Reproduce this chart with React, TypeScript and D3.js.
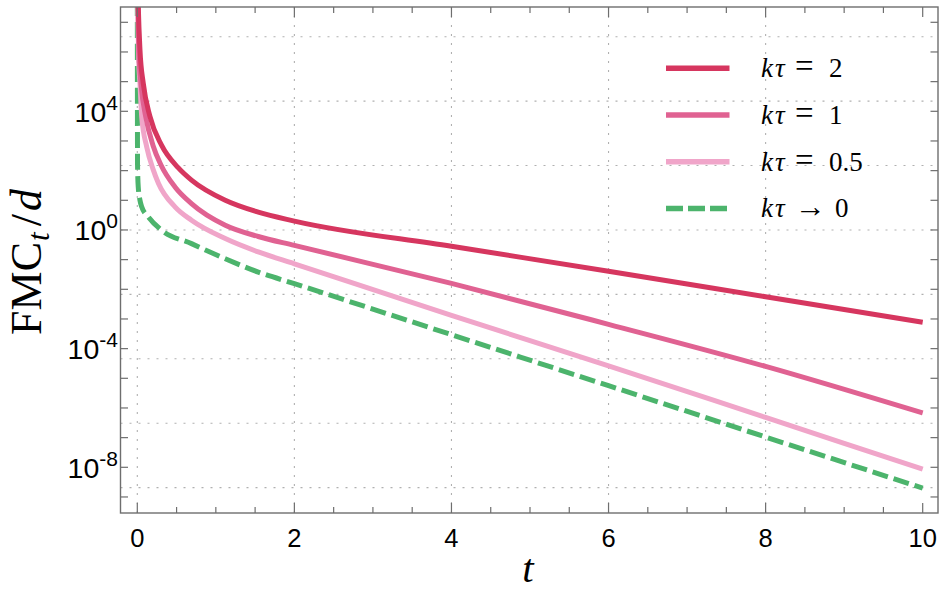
import React from "react";
import * as d3 from "d3";

// ---- data (t, log10 FMC_t/d) ----
const tRed = [0.006, 0.013, 0.034, 0.076, 0.162, 0.31, 0.52, 0.69, 1.12, 1.54, 2.0, 4.0, 6.0, 8.0, 10.0];
const logRed = [8.3, 7.5, 6.07, 4.94, 3.82, 2.85, 2.1, 1.68, 1.0, 0.6, 0.3, -0.55, -1.39, -2.25, -3.11];

const tPink = [0.004, 0.02, 0.05, 0.107, 0.2, 0.3, 0.48, 0.69, 1.12, 1.54, 2.0, 4.0, 6.0, 8.0, 10.0];
const logPink = [8.3, 6.0, 4.85, 3.82, 2.85, 2.2, 1.45, 0.89, 0.16, -0.22, -0.52, -1.8, -3.18, -4.6, -6.17];

const tLight = [0.003, 0.015, 0.035, 0.056, 0.12, 0.2, 0.27, 0.48, 0.69, 1.12, 1.54, 2.0, 4.0, 6.0, 8.0, 10.0];
const logLight = [8.3, 6.0, 4.9, 3.82, 2.8, 2.05, 1.57, 0.78, 0.33, -0.29, -0.74, -1.14, -2.88, -4.58, -6.32, -8.06];

const tGreen = [0.0, 0.003, 0.012, 0.034, 0.056, 0.14, 0.31, 0.69, 1.12, 1.54, 2.0, 4.0, 6.0, 8.0, 10.0];
const logGreen = [8.5, 2.2, 1.45, 1.0, 0.78, 0.44, -0.01, -0.46, -0.97, -1.42, -1.81, -3.53, -5.25, -6.98, -8.7];

const seriesLabels = ["2", "1", "0.5", "0"];
const seriesRelations = ["=", "=", "=", "→"];
const seriesColors = ["#d6365f", "#e06292", "#f0a5c9", "#4cb46c"];

const xMajorTicks = [0, 2, 4, 6, 8, 10];
const xGrid = [0, 2, 4, 6, 8];
const yLabelExps = [4, 0, -4, -8];
const yTickExps = d3.range(-9, 8);
const yGridLn = [-20, -15, -10, -5, 0, 5, 10, 15];

// ---- layout ----
const W = 947, H = 592;
const L = 120.5, R = 938, T = 7, B = 513;
const SERIF = "'Liberation Serif', 'Times New Roman', serif";

export default function App() {
  const x = d3.scaleLinear().domain([0, 10]).range([137.3, 922.7]);
  const y = d3.scaleLog().domain([1e-8, 1e4]).range([467.3, 111.3]);

  const line = d3
    .line<[number, number]>()
    .x((d) => x(d[0]))
    .y((d) => y(Math.pow(10, d[1])))
    .curve(d3.curveMonotoneX);

  const series = [
    { t: tRed, v: logRed },
    { t: tPink, v: logPink },
    { t: tLight, v: logLight },
    { t: tGreen, v: logGreen },
  ];

  const xMinor = d3.range(0, 10.01, 0.5).filter((v) => !xMajorTicks.includes(v));
  const gridStroke = "#b0b0b0";
  const frame = "#6e6e6e";

  return (
    <svg width={W} height={H} style={{ position: "absolute", left: 0, top: 0 }} xmlns="http://www.w3.org/2000/svg">
      <rect width={W} height={H} fill="#fff" />
      <defs>
        <clipPath id="plot">
          <rect x={L} y={T} width={R - L} height={B - T} />
        </clipPath>
      </defs>
      {/* grid */}
      <g stroke={gridStroke} strokeWidth={1.1} strokeDasharray="2,7">
        {xGrid.map((v) => (
          <line key={"gx" + v} x1={x(v)} x2={x(v)} y1={T} y2={B} />
        ))}
        {yGridLn.map((v) => (
          <line key={"gy" + v} x1={L} x2={R} y1={y(Math.exp(v))} y2={y(Math.exp(v))} />
        ))}
      </g>
      {/* curves */}
      <g clipPath="url(#plot)" fill="none">
        {[3, 2, 1, 0].map((i) => (
          <path
            key={i}
            d={line(series[i].t.map((t, j) => [t, series[i].v[j]]) as [number, number][]) || ""}
            stroke={seriesColors[i]}
            strokeWidth={5}
            strokeDasharray={i === 3 ? "16,6" : undefined}
            strokeLinejoin="round"
          />
        ))}
      </g>
      {/* frame */}
      <rect x={L} y={T} width={R - L} height={B - T} fill="none" stroke={frame} strokeWidth={1.4} />
      {/* ticks */}
      <g stroke={frame} strokeWidth={1.2}>
        {xMajorTicks.map((v) => (
          <g key={"xt" + v}>
            <line x1={x(v)} x2={x(v)} y1={B} y2={B - 10} />
            <line x1={x(v)} x2={x(v)} y1={T} y2={T + 10} />
          </g>
        ))}
        {xMinor.map((v) => (
          <g key={"xm" + v}>
            <line x1={x(v)} x2={x(v)} y1={B} y2={B - 6} />
            <line x1={x(v)} x2={x(v)} y1={T} y2={T + 6} />
          </g>
        ))}
        {yTickExps.map((e) => (
          <g key={"yt" + e}>
            <line x1={L} x2={L + 7.5} y1={y(Math.pow(10, e))} y2={y(Math.pow(10, e))} />
            <line x1={R} x2={R - 7.5} y1={y(Math.pow(10, e))} y2={y(Math.pow(10, e))} />
          </g>
        ))}
      </g>
      {/* tick labels */}
      <g fontFamily="'Liberation Sans', Arial, sans-serif" fill="#000">
        {xMajorTicks.map((v) => (
          <text key={"xl" + v} x={x(v)} y={546.7} fontSize={25.5} textAnchor="middle">
            {v}
          </text>
        ))}
        {yLabelExps.map((e) => (
          <text key={"yl" + e} x={118} y={y(Math.pow(10, e)) + 10.3} fontSize={28.5} textAnchor="end">
            10
            <tspan fontSize={21} dy={-12}>
              {e}
            </tspan>
          </text>
        ))}
      </g>
      {/* axis labels */}
      <text
        transform="translate(41,262) rotate(-90)"
        textAnchor="middle"
        fontFamily={SERIF}
        fontSize={44}
        fill="#000"
      >
        FMC
        <tspan fontStyle="italic" fontSize={31} dy={8} dx={1}>t</tspan>
        <tspan dy={-8} dx={6}>/</tspan>
        <tspan fontStyle="italic" dx={3}>d</tspan>
      </text>
      <text x={528} y={582} textAnchor="middle" fontFamily={SERIF} fontStyle="italic" fontSize={41}>
        t
      </text>
      {/* legend */}
      <g>
        {seriesLabels.map((lab, i) => {
          const ly = 68.3 + i * 46.7;
          return (
            <g key={"lg" + i}>
              <line x1={666} x2={729.5} y1={ly} y2={ly} stroke={seriesColors[i]} strokeWidth={5.5} strokeDasharray={i === 3 ? "17,5" : undefined} />
              <text y={ly + 9} fontFamily={SERIF} fontSize={27} fill="#000">
                <tspan x={761} fontStyle="italic">k</tspan>
                <tspan x={775} fontStyle="italic">τ</tspan>
                <tspan x={795} fontSize={i === 3 ? 31 : 33}>{seriesRelations[i]}</tspan>
                <tspan x={i === 3 ? 835 : 829}>{lab}</tspan>
              </text>
            </g>
          );
        })}
      </g>
    </svg>
  );
}
